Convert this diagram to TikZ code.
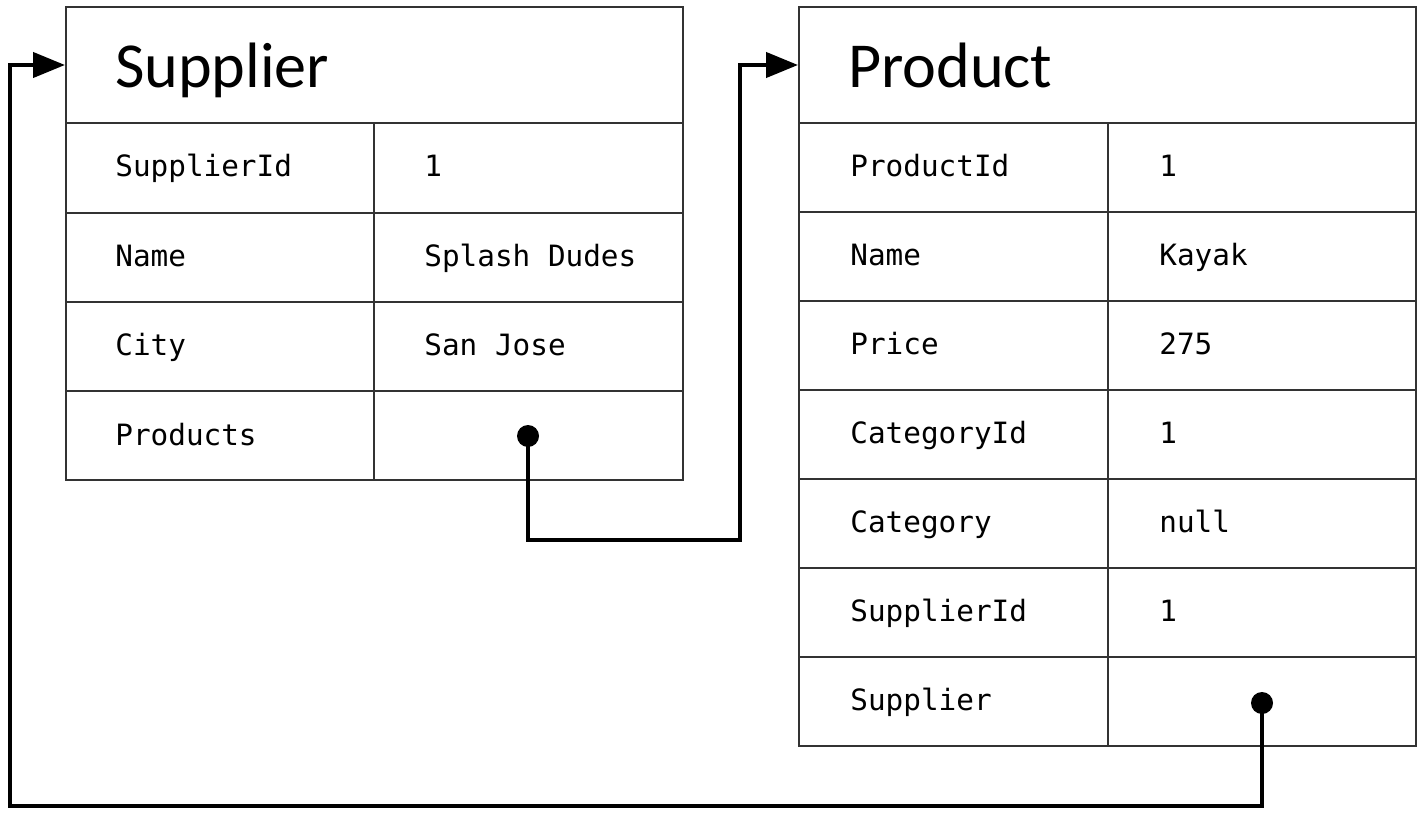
\documentclass[tikz,border=0pt]{standalone}
\usepackage{fontspec}
\setmainfont{Carlito}
\setmonofont{DejaVu Sans Mono}
\usetikzlibrary{arrows.meta}

\tikzset{
  headbox/.style={draw=black!80, line width=1.2pt, minimum width=12.34cm,
    minimum height=2.32cm, text width=10.38cm, inner xsep=0.98cm,
    align=left, text depth=0pt, font=\fontsize{36.5}{40}\selectfont},
  grid/.style={draw=black!80, line width=1.2pt},
  field/.style={anchor=base west, inner sep=0pt,
    font=\ttfamily\fontsize{16.7}{20}\selectfont},
  dot/.style={circle, fill, inner sep=0pt, minimum size=0.44cm},
  link/.style={line width=2.4pt, -{Triangle[length=0.64cm,width=0.5cm]}}
}

\begin{document}
\begin{tikzpicture}[x=0.02cm,y=-0.02cm]
\useasboundingbox (0,0) rectangle (1425,817);

% 1. Table Supplier
\node[headbox] (supHead) at (374.5,65) {Supplier};
\draw[grid] (66,123) rectangle (683,480);
\draw[grid] (374,123) -- (374,480);
\foreach \y in {213,302,391} {
    \draw[grid] (66,\y) -- (683,\y);
}
\foreach \n/\v [count=\i] in {SupplierId/1, Name/Splash Dudes, City/San Jose} {
    \node[field] (supName\i) at (115,177+89.25*\i-89.25) {\n};
    \node[field] (supVal\i) at (424,177+89.25*\i-89.25) {\v};
}
\node[field] (supName4) at (115,445) {Products};
\node[dot] (supDot) at (528,436) {};

% 2. Table Product
\node[headbox] (prodHead) at (1107.5,65) {Product};
\draw[grid] (799,123) rectangle (1416,746);
\draw[grid] (1108,123) -- (1108,746);
\foreach \y in {212,301,390,479,568,657} {
    \draw[grid] (799,\y) -- (1416,\y);
}
\foreach \n/\v [count=\i] in {ProductId/1, Name/Kayak, Price/275,
    CategoryId/1, Category/null, SupplierId/1} {
    \node[field] (prodName\i) at (850,176.5+89*\i-89) {\n};
    \node[field] (prodVal\i) at (1159,176.5+89*\i-89) {\v};
}
\node[field] (prodName7) at (850,710.5) {Supplier};
\node[dot] (prodDot) at (1262,703) {};

% 3. Liens de navigation
\coordinate (bendA) at (740,540);
\coordinate (bendB) at (10,806);
\draw[link] (supDot.center) |- (bendA) |- (prodHead.west);
\draw[link] (prodDot.center) |- (bendB) |- (supHead.west);
\end{tikzpicture}
\end{document}
